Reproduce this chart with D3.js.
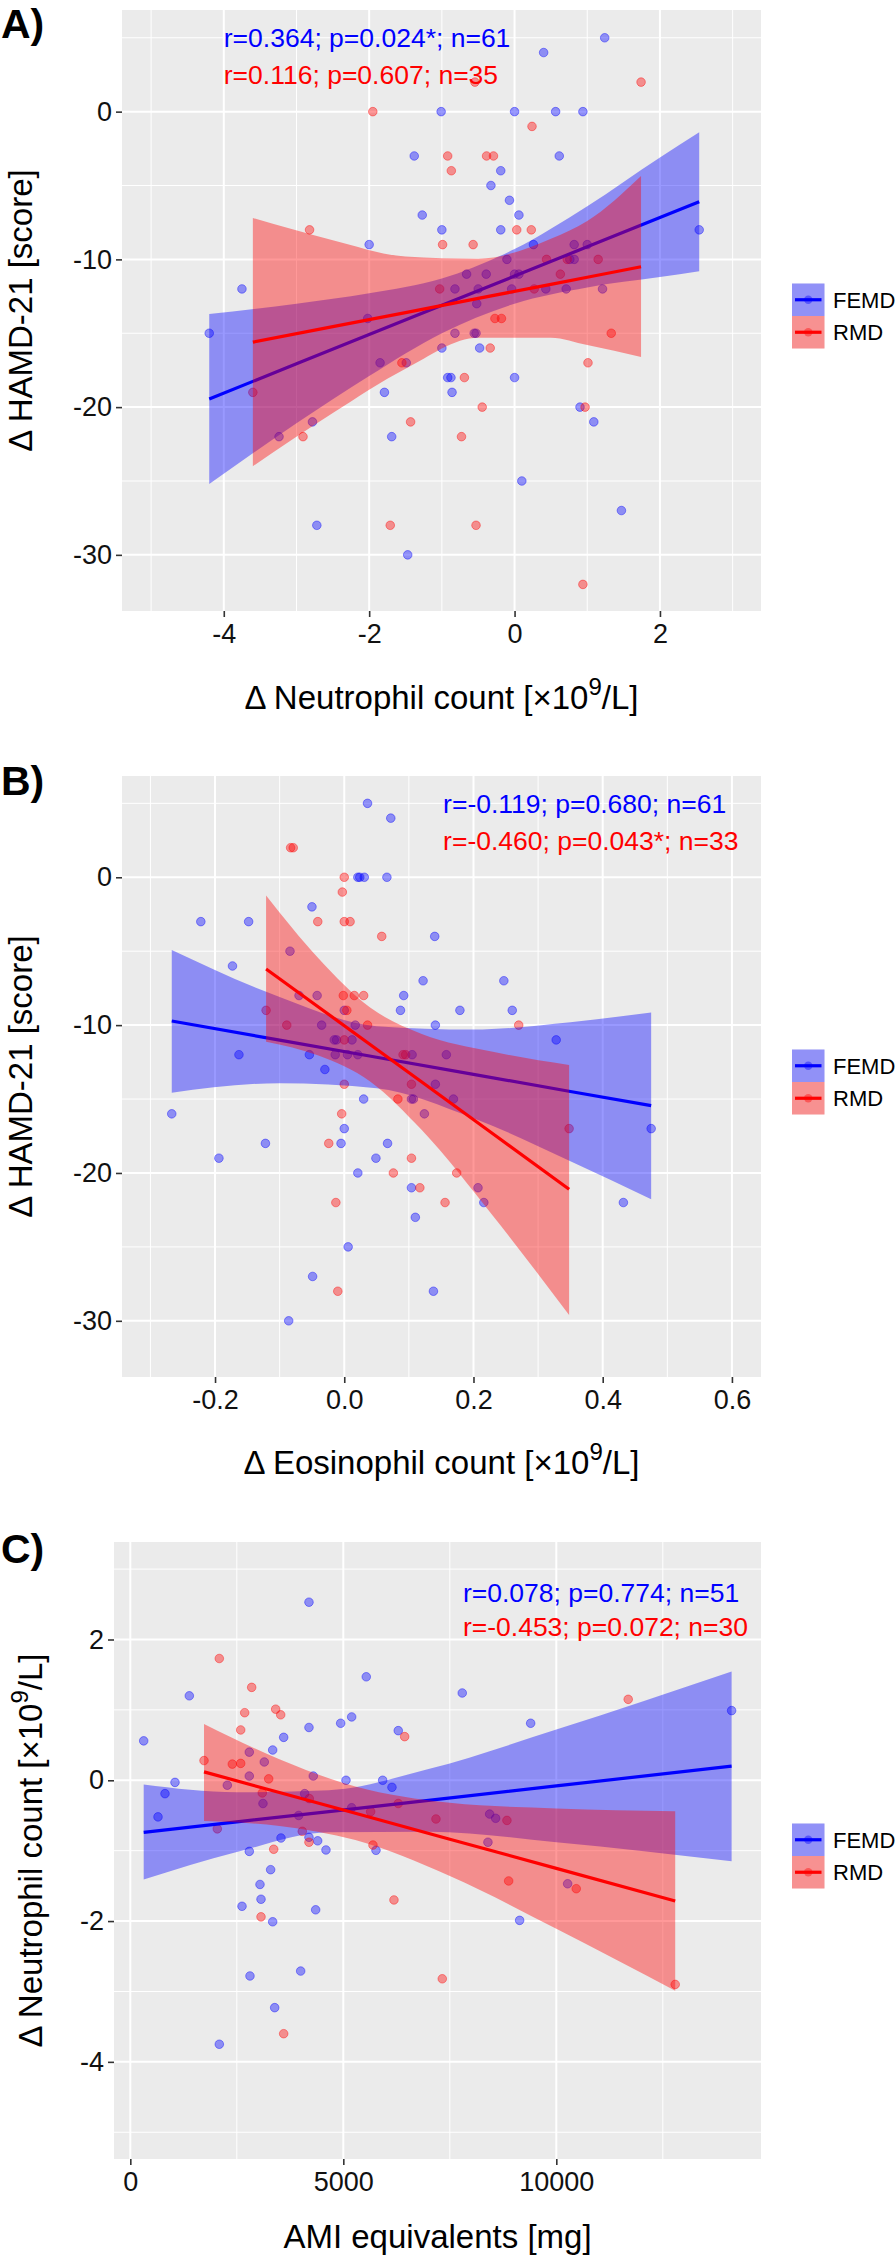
<!DOCTYPE html>
<html>
<head>
<meta charset="utf-8">
<script src="https://cdn.jsdelivr.net/npm/d3@7"></script>
<style>
  body { margin: 0; background: #fff; }
  svg text { font-family: 'Liberation Sans', Arial, Helvetica, sans-serif; }
</style>
</head>
<body>
<div id="chart"></div>
<script>
/* groups */
const groups = ['FEMD', 'RMD'];
const groupColors = ['#0000ff', '#ff0000'];

/* A) delta neutrophil vs delta HAMD-21, [x, y] */
const femdA = [
  [-1.01, 0], [-1.38, -3], [-1.27, -7], [-1.0, -8], [-2.0, -9], [-3.75, -12], [-2.02, -14], [-4.2, -15],
  [-1.0, -16], [-1.85, -17], [-1.49, -17], [-0.92, -18], [-1.79, -19], [-2.78, -21], [-3.24, -22], [-1.69, -22],
  [-2.72, -28], [-1.47, -30], [1.24, 5], [0.40, 4], [0.0, 0], [0.565, 0], [0.94, 0], [0.615, -3],
  [-0.19, -4], [-0.325, -5], [-0.07, -6], [0.06, -7], [-0.19, -8], [2.54, -8], [0.26, -9], [0.82, -9],
  [1.0, -9], [-0.105, -10], [0.76, -10], [0.82, -10], [-0.66, -11], [-0.39, -11], [0.0, -11], [0.06, -11],
  [-0.82, -12], [-0.5, -12], [-0.04, -12], [0.43, -12], [0.71, -12], [1.21, -12], [-0.52, -13], [-0.82, -15],
  [-0.555, -15], [-0.53, -15], [-0.48, -16], [-0.875, -18], [0.0, -18], [-0.86, -19], [0.9, -20], [1.09, -21],
  [0.1, -25], [1.47, -27]
];
const rmdA = [
  [-1.95, 0], [-0.92, -3], [-0.87, -4], [-2.82, -8], [-0.99, -9], [-1.03, -12], [-1.55, -17], [-3.6, -19],
  [-1.43, -21], [-2.91, -22], [-1.71, -28], [1.74, 2], [-0.545, 2], [0.24, -1], [-0.385, -3], [-0.29, -3],
  [0.03, -8], [0.23, -8], [-0.57, -9], [0.44, -10], [0.725, -10], [1.15, -10], [0.63, -11], [0.27, -12],
  [-0.27, -14], [-0.18, -14], [1.33, -15], [-0.335, -16], [1.01, -17], [-0.69, -18], [-0.445, -20], [0.97, -20],
  [-0.73, -22], [-0.53, -28], [0.94, -32]
];
/* linear fit with 95% band, [x, fit, lower, upper] */
const smoothFemdA = [
  [-4.2, -19.45, -25.2, -13.7], [-3, -17.07, -21.1, -13.0], [-2, -15.09, -17.9, -12.3], [-1, -13.11, -15.0, -11.3],
  [0, -11.13, -13.0, -9.3], [1, -9.15, -11.9, -6.4], [2, -7.17, -11.2, -3.1], [2.54, -6.1, -10.8, -1.4]
];
const smoothRmdA = [
  [-3.6, -15.6, -24.0, -7.2], [-2.5, -14.55, -20.4, -8.7], [-1.5, -13.6, -17.4, -9.8], [-0.5, -12.64, -15.3, -9.95],
  [0.5, -11.69, -15.3, -8.6], [1.0, -11.21, -15.8, -7.4], [1.74, -10.5, -16.6, -4.35]
];
const statsA = ['r=0.364; p=0.024*; n=61', 'r=0.116; p=0.607; n=35'];

/* B) delta eosinophil vs delta HAMD-21 */
const femdB = [
  [0.036, 5], [0.072, 4], [0.021, 0], [0.024, 0], [0.031, 0], [0.066, 0], [-0.05, -2], [-0.222, -3],
  [-0.148, -3], [0.14, -4], [-0.084, -5], [-0.173, -6], [0.122, -7], [-0.07, -8], [-0.042, -8], [0.092, -8],
  [0.0, -9], [0.087, -9], [-0.035, -10], [0.017, -10], [0.141, -10], [-0.0155, -11], [-0.012, -11], [0.012, -11],
  [-0.163, -12], [-0.054, -12], [-0.014, -12], [0.005, -12], [0.021, -12], [0.105, -12], [0.158, -12], [-0.03, -13],
  [0.141, -14], [0.03, -15], [0.104, -15], [0.107, -15], [-0.267, -16], [0.124, -16], [0.0, -17], [-0.122, -18],
  [-0.005, -18], [0.067, -18], [-0.194, -19], [0.049, -19], [0.021, -20], [0.104, -21], [0.11, -23], [0.006, -25],
  [-0.049, -27], [0.138, -28], [-0.086, -30], [0.247, -7], [0.179, -9], [0.26, -9], [0.328, -11], [0.169, -15],
  [0.475, -17], [0.207, -21], [0.216, -22], [0.432, -22]
];
const rmdB = [
  [-0.083, 2], [-0.079, 2], [0.0, 0], [-0.003, -1], [-0.041, -3], [0.0, -3], [0.009, -3], [0.058, -4],
  [-0.0015, -8], [0.0155, -8], [0.03, -8], [-0.121, -9], [0.004, -9], [-0.089, -10], [0.036, -10], [0.0, -11],
  [0.091, -12], [0.095, -12], [0.0, -14], [0.104, -14], [0.083, -15], [-0.004, -16], [-0.024, -18], [0.104, -19],
  [0.076, -20], [0.117, -21], [-0.013, -22], [0.156, -22], [-0.01, -28], [0.27, -10], [0.348, -17], [0.174, -20]
];
const smoothFemdB = [
  [-0.267, -9.72, -14.57, -4.92], [-0.1, -11.01, -13.93, -8.09], [0.05, -12.17, -14.27, -10.07],
  [0.2, -13.33, -16.3, -10.3], [0.35, -14.49, -19.2, -9.8], [0.475, -15.45, -21.77, -9.14]
];
const smoothRmdB = [
  [-0.121, -6.2, -11.12, -1.24], [-0.04, -8.77, -12.06, -5.48], [0.04, -11.31, -13.81, -8.81],
  [0.12, -13.85, -17.1, -10.6], [0.23, -17.35, -22.9, -11.8], [0.348, -21.1, -29.6, -12.7]
];
const statsB = ['r=-0.119; p=0.680; n=61', 'r=-0.460; p=0.043*; n=33'];

/* C) AMI equivalents vs delta neutrophil */
const femdC = [
  [4194, 2.53], [5539, 1.47], [1385, 1.20], [5196, 0.90], [4938, 0.81], [4194, 0.75], [6290, 0.705], [3600, 0.61],
  [314, 0.56], [3342, 0.43], [2793, 0.40], [3145, 0.26], [2793, 0.06], [4295, 0.06], [5063, 0.0], [1049, -0.03],
  [5924, 0.0], [2277, -0.07], [6142, -0.10], [814, -0.19], [4093, -0.19], [3114, -0.33], [5196, -0.39], [650, -0.52],
  [3952, -0.50], [3537, -0.82], [4194, -0.81], [4398, -0.86], [5767, -0.995], [4593, -0.99], [2793, -1.01], [3294, -1.27],
  [3044, -1.48], [3068, -1.69], [2622, -1.79], [4351, -1.84], [3342, -2.01], [3999, -2.71], [2809, -2.78], [3389, -3.23],
  [2089, -3.75], [7792, 1.24], [14115, 0.99], [9398, 0.81], [8435, -0.48], [8576, -0.54], [8395, -0.88], [10266, -1.47],
  [9139, -1.99]
];
const rmdC = [
  [2089, 1.73], [2849, 1.32], [2685, 0.96], [3412, 1.01], [3530, 0.93], [2591, 0.715], [6440, 0.62], [1730, 0.28],
  [2394, 0.23], [2591, 0.24], [3248, 0.02], [3098, -0.18], [4201, -0.26], [6290, -0.33], [5642, -0.445], [7175, -0.55],
  [2042, -0.69], [4037, -0.725], [4194, -0.88], [5696, -0.92], [3366, -0.98], [6189, -1.70], [3068, -1.94], [7323, -2.82],
  [3600, -3.60], [11688, 1.15], [8841, -0.57], [8881, -1.43], [10468, -1.54], [12791, -2.90]
];
const smoothFemdC = [
  [314, -0.74, -1.41, -0.06], [2500, -0.591, -1.02, -0.17], [4662, -0.444, -0.74, -0.14],
  [7000, -0.285, -0.73, 0.16], [10000, -0.08, -0.88, 0.72], [14115, 0.20, -1.15, 1.545]
];
const smoothRmdC = [
  [1730, 0.12, -0.58, 0.80], [3500, -0.174, -0.65, 0.30], [5283, -0.469, -0.85, -0.09],
  [7500, -0.837, -1.36, -0.32], [10000, -1.252, -2.11, -0.40], [12791, -1.715, -2.99, -0.44]
];
const statsC = ['r=0.078; p=0.774; n=51', 'r=-0.453; p=0.072; n=30'];

/* ticks */
const xTicksA = [-4, -2, 0, 2];
const xTickLabelsA = ['-4', '-2', '0', '2'];
const yTicksHamd = [0, -10, -20, -30];
const yTickLabelsHamd = ['0', '-10', '-20', '-30'];
const xTicksB = [-0.2, 0, 0.2, 0.4, 0.6];
const xTickLabelsB = ['-0.2', '0.0', '0.2', '0.4', '0.6'];
const xTicksC = [0, 5000, 10000];
const xTickLabelsC = ['0', '5000', '10000'];
const yTicksC = [2, 0, -2, -4];
const yTickLabelsC = ['2', '0', '-2', '-4'];

const W = 896, H = 2255;
const svg = d3.select('#chart').append('svg')
  .attr('width', W)
  .attr('height', H)
  .style('background', '#fff');

const bandAlpha = 0.4;

function midpoints(ticks, domain) {
  // minor grid sits halfway between majors (and one step outside)
  const step = Math.abs(ticks[1] - ticks[0]);
  const out = [];
  const lo = Math.min(...ticks) - step, hi = Math.max(...ticks) + step;
  for (let v = lo + step / 2; v < hi; v += step) {
    if (v > domain[0] && v < domain[1]) out.push(v);
  }
  return out;
}

function addTitle(sel, parts) {
  parts.forEach(p => {
    if (p.sup) {
      sel.append('tspan').text(p.text).attr('dy', -14).style('font-size', '24px');
    } else if (p.back) {
      sel.append('tspan').text(p.text).attr('dy', 14);
    } else {
      sel.append('tspan').text(p.text);
    }
  });
}

function drawPanel(p, idx) {
  const x = d3.scaleLinear().domain(p.xDomain).range([p.left, p.right]);
  const y = d3.scaleLinear().domain(p.yDomain).range([p.bottom, p.top]);
  const g = svg.append('g').attr('class', 'panel');

  g.append('clipPath').attr('id', 'clip' + idx)
    .append('rect')
    .attr('x', p.left).attr('y', p.top)
    .attr('width', p.right - p.left).attr('height', p.bottom - p.top);

  g.append('rect')
    .attr('x', p.left).attr('y', p.top)
    .attr('width', p.right - p.left).attr('height', p.bottom - p.top)
    .style('fill', '#ebebeb');

  /* grid */
  const xMinor = midpoints(p.xTicks, p.xDomain);
  const yMinor = midpoints(p.yTicks.slice().sort((a, b) => a - b), p.yDomain);
  const grid = g.append('g').attr('class', 'grid').style('stroke', '#fff');
  grid.selectAll('.xminor').data(xMinor).enter().append('line')
    .attr('x1', d => x(d)).attr('x2', d => x(d)).attr('y1', p.top).attr('y2', p.bottom)
    .style('stroke-width', 1);
  grid.selectAll('.yminor').data(yMinor).enter().append('line')
    .attr('y1', d => y(d)).attr('y2', d => y(d)).attr('x1', p.left).attr('x2', p.right)
    .style('stroke-width', 1);
  grid.selectAll('.xmajor').data(p.xTicks).enter().append('line')
    .attr('x1', d => x(d)).attr('x2', d => x(d)).attr('y1', p.top).attr('y2', p.bottom)
    .style('stroke-width', 2);
  grid.selectAll('.ymajor').data(p.yTicks).enter().append('line')
    .attr('y1', d => y(d)).attr('y2', d => y(d)).attr('x1', p.left).attr('x2', p.right)
    .style('stroke-width', 2);

  /* axes */
  const xAxis = d3.axisBottom(x)
    .tickValues(p.xTicks)
    .tickFormat((d, i) => p.xLabels[i])
    .tickSizeInner(6)
    .tickSizeOuter(0)
    .tickPadding(7);
  const yAxis = d3.axisLeft(y)
    .tickValues(p.yTicks)
    .tickFormat((d, i) => p.yLabels[i])
    .tickSizeInner(6)
    .tickSizeOuter(0)
    .tickPadding(4);
  [
    g.append('g').attr('transform', `translate(0, ${p.bottom})`).call(xAxis),
    g.append('g').attr('transform', `translate(${p.left}, 0)`).call(yAxis),
  ].forEach(ax => {
    ax.select('.domain').remove();
    ax.attr('font-family', null).attr('font-size', null);
    ax.selectAll('.tick line').attr('stroke', '#333').attr('stroke-width', 1.6);
    ax.selectAll('.tick text').style('font-size', '27px').attr('fill', '#111');
  });

  /* points */
  const body = g.append('g').attr('clip-path', `url(#clip${idx})`);
  p.points.forEach((pts, gi) => {
    body.append('g').selectAll('circle')
      .data(pts)
      .enter().append('circle')
      .attr('cx', d => x(d[0]))
      .attr('cy', d => y(d[1]))
      .attr('r', 4.3)
      .style('fill', groupColors[gi])
      .style('fill-opacity', 0.4)
      .style('stroke', groupColors[gi])
      .style('stroke-opacity', 0.4)
      .style('stroke-width', 1);
  });

  /* smooth: band then line, per group */
  const area = d3.area()
    .x(d => x(d[0]))
    .y0(d => y(d[2]))
    .y1(d => y(d[3]))
    .curve(d3.curveMonotoneX);
  const line = d3.line()
    .x(d => x(d[0]))
    .y(d => y(d[1]));
  p.smooth.forEach((s, gi) => {
    body.append('path')
      .attr('d', area(s))
      .style('fill', groupColors[gi])
      .style('fill-opacity', bandAlpha);
    body.append('path')
      .attr('d', line(s))
      .style('fill', 'none')
      .style('stroke', groupColors[gi])
      .style('stroke-width', 3.2);
  });

  /* stats text */
  p.stats.forEach((t, i) => {
    g.append('text')
      .attr('x', x(p.statX))
      .attr('y', y(p.statY[i]))
      .attr('dy', '0.36em')
      .style('font-size', '26.5px')
      .style('fill', groupColors[i])
      .text(t);
  });

  /* axis titles */
  const xt = g.append('text')
    .attr('x', (p.left + p.right) / 2)
    .attr('y', p.xTitleY)
    .style('text-anchor', 'middle')
    .style('font-size', '33px')
    .style('fill', '#000');
  addTitle(xt, p.xTitle);
  const cy = (p.top + p.bottom) / 2;
  const yt = g.append('text')
    .attr('transform', `translate(${p.yTitleX}, ${cy}) rotate(-90)`)
    .style('text-anchor', 'middle')
    .style('font-size', '33px')
    .style('fill', '#000');
  addTitle(yt, p.yTitle);

  /* tag */
  g.append('text')
    .attr('x', 1)
    .attr('y', p.tagY)
    .style('font-size', '41px')
    .style('font-weight', 'bold')
    .text(p.tag);

  /* legend */
  const key = 32.5;
  const ly = cy + 5.5 - key;
  const lx = 792;
  const legend = g.append('g').attr('class', 'legend')
    .selectAll('.legend-item')
    .data(groups)
    .enter().append('g')
    .attr('transform', (d, i) => `translate(${lx}, ${ly + i * key})`);
  legend.append('rect')
    .attr('width', key).attr('height', key)
    .style('fill', '#f2f2f2');
  legend.append('rect')
    .attr('width', key).attr('height', key)
    .style('fill', (d, i) => groupColors[i])
    .style('fill-opacity', bandAlpha);
  legend.append('line')
    .attr('x1', 3).attr('x2', key - 3)
    .attr('y1', key / 2).attr('y2', key / 2)
    .style('stroke', (d, i) => groupColors[i])
    .style('stroke-width', 3.2);
  legend.append('circle')
    .attr('cx', key / 2).attr('cy', key / 2).attr('r', 4.2)
    .style('fill', (d, i) => groupColors[i])
    .style('fill-opacity', 0.4);
  legend.append('text')
    .attr('x', 41)
    .attr('y', key / 2)
    .attr('dy', '0.36em')
    .style('font-size', '22px')
    .style('fill', '#000')
    .text(d => d);
}

const neutroTitle = [{ text: '\u0394 Neutrophil count [\u00d710' }, { text: '9', sup: true }, { text: '/L]', back: true }];

drawPanel({
  tag: 'A)', tagY: 38,
  left: 122, right: 761, top: 10, bottom: 611,
  xDomain: [-5.4, 3.39], yDomain: [-33.8, 6.88],
  xTicks: xTicksA, xLabels: xTickLabelsA,
  yTicks: yTicksHamd, yLabels: yTickLabelsHamd,
  points: [femdA, rmdA],
  smooth: [smoothFemdA, smoothRmdA],
  stats: statsA, statX: -4, statY: [5, 2.5],
  xTitle: neutroTitle, xTitleY: 709,
  yTitle: [{ text: '\u0394 HAMD-21 [score]' }], yTitleX: 32,
}, 0);

drawPanel({
  tag: 'B)', tagY: 795,
  left: 122, right: 761, top: 776, bottom: 1377,
  xDomain: [-0.344, 0.645], yDomain: [-33.8, 6.85],
  xTicks: xTicksB, xLabels: xTickLabelsB,
  yTicks: yTicksHamd, yLabels: yTickLabelsHamd,
  points: [femdB, rmdB],
  smooth: [smoothFemdB, smoothRmdB],
  stats: statsB, statX: 0.153, statY: [5, 2.5],
  xTitle: [{ text: '\u0394 Eosinophil count [\u00d710' }, { text: '9', sup: true }, { text: '/L]', back: true }],
  xTitleY: 1474,
  yTitle: [{ text: '\u0394 HAMD-21 [score]' }], yTitleX: 32,
}, 1);

drawPanel({
  tag: 'C)', tagY: 1563,
  left: 114, right: 761, top: 1542, bottom: 2159,
  xDomain: [-383, 14805], yDomain: [-5.38, 3.385],
  xTicks: xTicksC, xLabels: xTickLabelsC,
  yTicks: yTicksC, yLabels: yTickLabelsC,
  points: [femdC, rmdC],
  smooth: [smoothFemdC, smoothRmdC],
  stats: statsC, statX: 7808, statY: [2.67, 2.18],
  xTitle: [{ text: 'AMI equivalents [mg]' }], xTitleY: 2248,
  yTitle: neutroTitle, yTitleX: 42,
}, 2);
</script>
</body>
</html>
